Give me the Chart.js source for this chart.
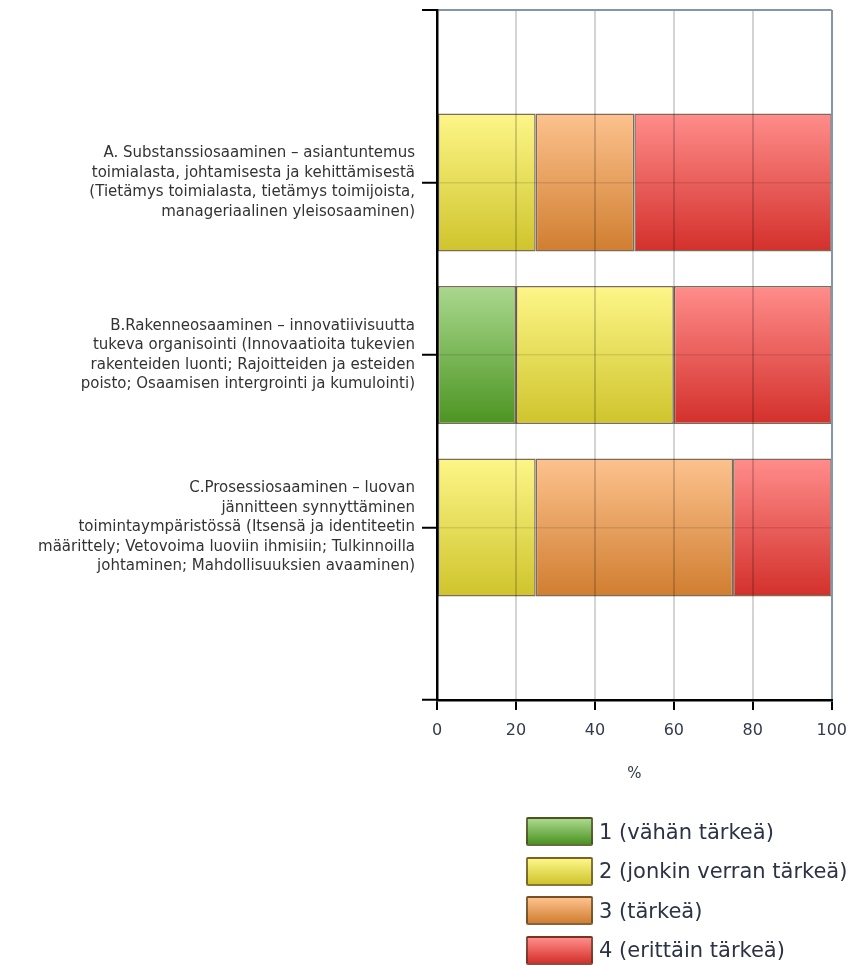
<!DOCTYPE html>
<html>
<head>
<meta charset="utf-8">
<script src="https://cdn.jsdelivr.net/npm/chart.js@4"></script>
<style>
    body { margin: 0; background: #fff; font-family: "DejaVu Sans", Verdana, sans-serif; }
    #wrap { position: relative; width: 858px; height: 965px; overflow: hidden; }
    #legend { position: absolute; left: 526px; top: 818px; }
    .leg-row { display: flex; align-items: center; height: 39.5px; }
    .leg-box { width: 63px; height: 25px; border: 2px solid rgba(70, 50, 25, 0.65); border-radius: 2px; margin-top: -12px; }
    .leg-text { font-size: 21px; color: #2b3344; margin-left: 6px; margin-top: -12px; white-space: nowrap; }
</style>
</head>
<body>
<div id="wrap">
    <canvas id="chart" width="858" height="965"></canvas>
    <div id="legend"></div>
</div>
<script>
const categories = [
    ['A. Substanssiosaaminen – asiantuntemus', 'toimialasta, johtamisesta ja kehittämisestä', '(Tietämys toimialasta, tietämys toimijoista,', 'manageriaalinen yleisosaaminen)'],
    ['B.Rakenneosaaminen – innovatiivisuutta', 'tukeva organisointi (Innovaatioita tukevien', 'rakenteiden luonti; Rajoitteiden ja esteiden', 'poisto; Osaamisen intergrointi ja kumulointi)'],
    ['C.Prosessiosaaminen – luovan', 'jännitteen synnyttäminen', 'toimintaympäristössä (Itsensä ja identiteetin', 'määrittely; Vetovoima luoviin ihmisiin; Tulkinnoilla', 'johtaminen; Mahdollisuuksien avaaminen)']
];
const seriesNames = ['1 (vähän tärkeä)', '2 (jonkin verran tärkeä)', '3 (tärkeä)', '4 (erittäin tärkeä)'];
const vahanTarkea = [0, 20, 0];
const jonkinVerran = [25, 40, 25];
const tarkea = [25, 0, 50];
const erittainTarkea = [50, 40, 25];
const xTicks = [0, 20, 40, 60, 80, 100];

const topColors = ['#aad88e', '#fdf688', '#fdc28e', '#ff8d8b'];
const bottomColors = ['#4c9422', '#cfc42c', '#d07e30', '#d3302b'];

// empty slots above and below the three bars
const pad = arr => [null, ...arr, null];
const labels = ['', ...categories, ''];

function barFill(i) {
    return c => {
        const chart = c.chart;
        const y = chart.scales.y;
        if (!chart.chartArea || !y) return topColors[i];
        const mid = y.getPixelForValue(c.dataIndex);
        const half = Math.abs(y.getPixelForValue(1) - y.getPixelForValue(0)) * 0.4;
        const g = chart.ctx.createLinearGradient(0, mid - half, 0, mid + half);
        g.addColorStop(0, topColors[i]);
        g.addColorStop(1, bottomColors[i]);
        return g;
    };
}

const seriesValues = [vahanTarkea, jonkinVerran, tarkea, erittainTarkea];
const datasets = seriesValues.map((vals, i) => ({
    label: seriesNames[i],
    data: pad(vals),
    backgroundColor: barFill(i),
    borderColor: 'rgba(70, 45, 20, 0.7)',
    borderWidth: 1.5,
    borderSkipped: false,
    categoryPercentage: 0.8,
    barPercentage: 1
}));

new Chart(document.getElementById('chart'), {
    type: 'bar',
    data: { labels: labels, datasets: datasets },
    options: {
        indexAxis: 'y',
        responsive: false,
        animation: false,
        layout: { padding: { left: 0, right: 26, top: 10, bottom: 175 } },
        plugins: { legend: { display: false }, tooltip: { enabled: false } },
        scales: {
            x: {
                stacked: true,
                min: 0,
                max: 100,
                afterBuildTicks: s => { s.ticks = xTicks.map(v => ({ value: v })); },
                afterFit: s => { s.height = 90; },
                grid: {
                    z: 1,
                    lineWidth: 2,
                    color: c => c.index === xTicks.length - 1 ? '#8595aa' : 'rgba(0, 0, 0, 0.17)',
                    tickColor: '#000',
                    tickLength: 10,
                    tickWidth: 2
                },
                border: { z: 2, color: '#000', width: 2.5 },
                ticks: {
                    color: '#333a4a',
                    padding: 11,
                    font: { family: 'DejaVu Sans', size: 16 }
                },
                title: {
                    display: true,
                    text: '%',
                    color: '#333a4a',
                    font: { family: 'DejaVu Sans', size: 15 },
                    padding: { top: 0, bottom: 7 }
                }
            },
            y: {
                stacked: true,
                offset: false,
                afterFit: s => {
                    s.width = 437;
                    s.paddingTop = 0;
                    s.paddingBottom = 0;
                },
                grid: {
                    z: 1,
                    offset: false,
                    lineWidth: c => c.index === 0 ? 2 : 1.5,
                    color: c => c.index === 0 ? '#8595aa' : 'rgba(0, 0, 0, 0.1)',
                    tickColor: '#000',
                    tickLength: 15,
                    tickWidth: 2
                },
                border: { z: 2, color: '#000', width: 2.5 },
                ticks: {
                    autoSkip: false,
                    color: '#333333',
                    padding: 7,
                    font: { family: 'DejaVu Sans', size: 15, lineHeight: 1.3 }
                }
            }
        }
    }
});

// legend below the plot, one entry per row
const legend = document.getElementById('legend');
seriesNames.forEach((name, i) => {
    const row = document.createElement('div');
    row.className = 'leg-row';
    row.innerHTML = `
        <div class="leg-box" style="background: linear-gradient(to bottom, ${topColors[i]}, ${bottomColors[i]})"></div>
        <div class="leg-text">${name}</div>
    `;
    legend.appendChild(row);
});
</script>
</body>
</html>
